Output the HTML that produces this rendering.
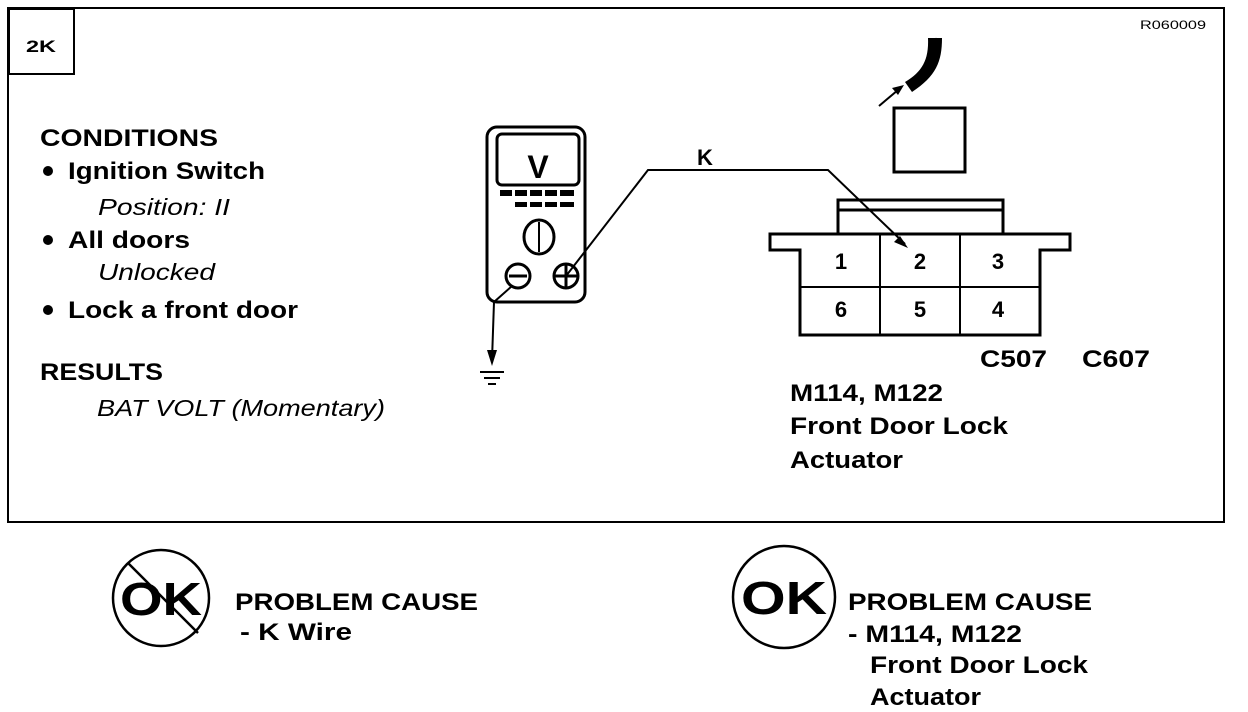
<!DOCTYPE html>
<html><head><style>
html,body{margin:0;padding:0;background:#fff;}
svg{display:block;}
text{font-family:"Liberation Sans",Arial,sans-serif;fill:#000;}
.b{font-weight:bold;font-size:24px;}
.i{font-style:italic;font-size:23px;}
</style></head><body>
<svg width="1248" height="712" viewBox="0 0 1248 712" xmlns="http://www.w3.org/2000/svg">
<rect x="8" y="8" width="1216" height="514" fill="none" stroke="#000" stroke-width="2"/>
<rect x="9" y="9" width="65" height="65" fill="none" stroke="#000" stroke-width="2"/>
<text x="26" y="52" class="b" style="font-size:17px" textLength="30" lengthAdjust="spacingAndGlyphs">2K</text>
<text x="1140" y="29" style="font-size:12px" textLength="66" lengthAdjust="spacingAndGlyphs">R060009</text>

<text x="40" y="146" class="b" textLength="178" lengthAdjust="spacingAndGlyphs">CONDITIONS</text>
<circle cx="48" cy="171" r="5"/>
<text x="68" y="179" class="b" textLength="197" lengthAdjust="spacingAndGlyphs">Ignition Switch</text>
<text x="98" y="215" class="i" textLength="132" lengthAdjust="spacingAndGlyphs">Position: II</text>
<circle cx="48" cy="240" r="5"/>
<text x="68" y="248" class="b" textLength="122" lengthAdjust="spacingAndGlyphs">All doors</text>
<text x="98" y="280" class="i" textLength="117" lengthAdjust="spacingAndGlyphs">Unlocked</text>
<circle cx="48" cy="310" r="5"/>
<text x="68" y="318" class="b" textLength="230" lengthAdjust="spacingAndGlyphs">Lock a front door</text>
<text x="40" y="380" class="b" textLength="123" lengthAdjust="spacingAndGlyphs">RESULTS</text>
<text x="97" y="416" class="i" textLength="288" lengthAdjust="spacingAndGlyphs">BAT VOLT (Momentary)</text>

<!-- meter -->
<g fill="none" stroke="#000" stroke-width="3">
<rect x="487" y="127" width="98" height="175" rx="10"/>
<rect x="497" y="134" width="82" height="51" rx="5"/>
<ellipse cx="539" cy="237" rx="15" ry="17"/>
<line x1="539" y1="222" x2="539" y2="252" stroke-width="2"/>
<circle cx="518" cy="276" r="12"/>
<line x1="509" y1="276" x2="527" y2="276"/>
<circle cx="566" cy="276" r="12"/>
<line x1="554" y1="276" x2="578" y2="276"/>
<line x1="566" y1="264" x2="566" y2="288"/>
</g>
<text x="538" y="178" class="b" style="font-size:32px" text-anchor="middle">V</text>
<g fill="#000">
<rect x="500" y="190" width="12" height="6"/><rect x="515" y="190" width="12" height="6"/><rect x="530" y="190" width="12" height="6"/><rect x="545" y="190" width="12" height="6"/><rect x="560" y="190" width="14" height="6"/>
<rect x="515" y="202" width="12" height="5"/><rect x="530" y="202" width="12" height="5"/><rect x="545" y="202" width="12" height="5"/><rect x="560" y="202" width="14" height="5"/>
</g>
<!-- wire K -->
<polyline points="566,276 648,170 828,170 905,244" fill="none" stroke="#000" stroke-width="2"/>
<polygon points="908,248 894,242 900,236" fill="#000"/>
<text x="697" y="165" class="b" style="font-size:22px">K</text>
<!-- ground -->
<polyline points="512,286 494,302 492,360" fill="none" stroke="#000" stroke-width="2"/>
<polygon points="487,350 497,350 492,366" fill="#000"/>
<line x1="480" y1="372" x2="504" y2="372" stroke="#000" stroke-width="2"/>
<line x1="484" y1="378" x2="500" y2="378" stroke="#000" stroke-width="2"/>
<line x1="488" y1="384" x2="496" y2="384" stroke="#000" stroke-width="2"/>

<!-- connector -->
<g fill="none" stroke="#000" stroke-width="3">
<rect x="894" y="108" width="71" height="64"/>
<path d="M935,38 C936,60 930,72 910,84"/>
<path d="M838,234 V200 H1003 V234 M838,210 H1003"/>
<path d="M770,234 H1070 V250 H1040 V335 H800 V250 H770 Z"/>
<line x1="880" y1="234" x2="880" y2="335" stroke-width="2"/>
<line x1="960" y1="234" x2="960" y2="335" stroke-width="2"/>
<line x1="800" y1="287" x2="1040" y2="287" stroke-width="2"/>
</g>
<path d="M928,38 L942,38 C942,62 936,76 912,92 L905,82 C922,72 929,60 928,38 Z" fill="#000"/>
<line x1="879" y1="106" x2="898" y2="90" stroke="#000" stroke-width="2"/>
<polygon points="904,85 892,88 898,95" fill="#000"/>
<g class="b" style="font-size:22px" text-anchor="middle">
<text x="841" y="269" class="b" style="font-size:22px">1</text>
<text x="920" y="269" class="b" style="font-size:22px">2</text>
<text x="998" y="269" class="b" style="font-size:22px">3</text>
<text x="841" y="317" class="b" style="font-size:22px">6</text>
<text x="920" y="317" class="b" style="font-size:22px">5</text>
<text x="998" y="317" class="b" style="font-size:22px">4</text>
</g>
<text x="980" y="367" class="b" textLength="67" lengthAdjust="spacingAndGlyphs">C507</text>
<text x="1082" y="367" class="b" textLength="68" lengthAdjust="spacingAndGlyphs">C607</text>
<text x="790" y="401" class="b" textLength="153" lengthAdjust="spacingAndGlyphs">M114, M122</text>
<text x="790" y="434" class="b" textLength="218" lengthAdjust="spacingAndGlyphs">Front Door Lock</text>
<text x="790" y="468" class="b" textLength="113" lengthAdjust="spacingAndGlyphs">Actuator</text>

<!-- bottom left -->
<circle cx="161" cy="598" r="48" fill="none" stroke="#000" stroke-width="2.5"/>
<text x="161" y="615" class="b" style="font-size:46px" text-anchor="middle" textLength="82" lengthAdjust="spacingAndGlyphs">OK</text>
<line x1="128" y1="563" x2="198" y2="633" stroke="#000" stroke-width="2.5"/>
<text x="235" y="610" class="b" textLength="243" lengthAdjust="spacingAndGlyphs">PROBLEM CAUSE</text>
<text x="240" y="640" class="b" textLength="112" lengthAdjust="spacingAndGlyphs">- K  Wire</text>

<!-- bottom right -->
<circle cx="784" cy="597" r="51" fill="none" stroke="#000" stroke-width="2.5"/>
<text x="784" y="614" class="b" style="font-size:46px" text-anchor="middle" textLength="86" lengthAdjust="spacingAndGlyphs">OK</text>
<text x="848" y="610" class="b" textLength="244" lengthAdjust="spacingAndGlyphs">PROBLEM CAUSE</text>
<text x="848" y="642" class="b" textLength="174" lengthAdjust="spacingAndGlyphs">-  M114, M122</text>
<text x="870" y="673" class="b" textLength="218" lengthAdjust="spacingAndGlyphs">Front Door Lock</text>
<text x="870" y="705" class="b" textLength="111" lengthAdjust="spacingAndGlyphs">Actuator</text>
</svg>
</body></html>
